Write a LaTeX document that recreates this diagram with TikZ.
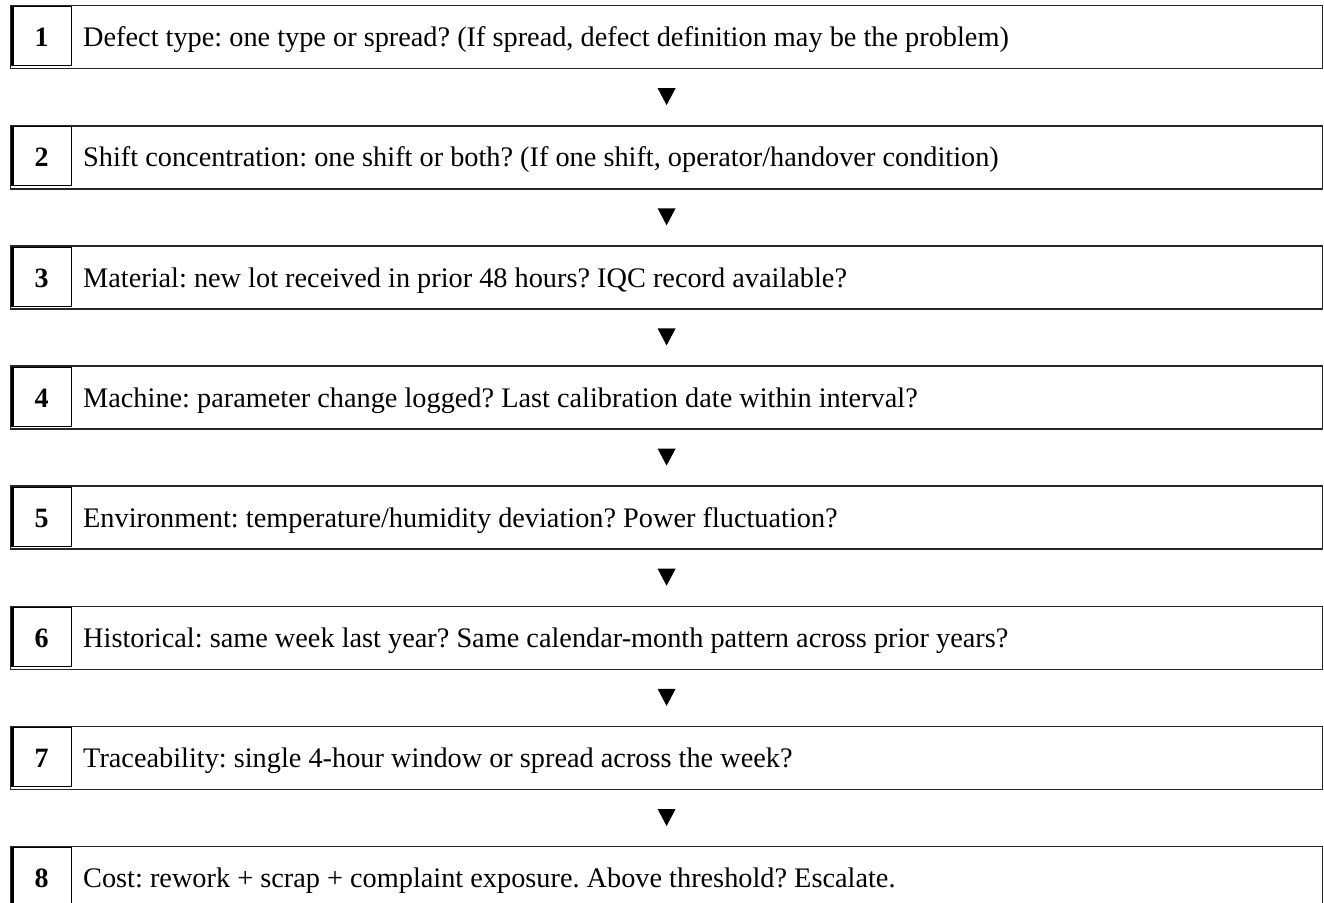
\documentclass[tikz,border=0pt]{standalone}
\usepackage{fontspec}
\setmainfont{Liberation Serif}
\usetikzlibrary{calc}
\tikzset{
  outerbox/.style={draw=black!85, line width=1.6pt, minimum width=1312pt, minimum height=63pt, inner sep=0pt, anchor=north west},
  numcell/.style={draw=black, line width=1pt, minimum width=59pt, minimum height=59pt, inner sep=0pt, anchor=north west},
  numtxt/.style={anchor=base, inner sep=0pt, font=\fontsize{28}{30}\selectfont\bfseries},
  txt/.style={anchor=base west, inner sep=0pt, font=\fontsize{28.3}{32}\selectfont},
  tri/.style={fill=black}
}
\frenchspacing
\begin{document}
\begin{tikzpicture}[x=1pt,y=-1pt]
\useasboundingbox (0,0) rectangle (1324,902);
\foreach \k/\t in {
 1/{Defect type: one type or spread? (If spread, defect definition may be the problem)},
 2/{Shift concentration: one shift or both? (If one shift, operator/handover condition)},
 3/{Material: new lot received in prior 48 hours? IQC record available?},
 4/{Machine: parameter change logged? Last calibration date within interval?},
 5/{Environment: temperature/humidity deviation? Power fluctuation?},
 6/{Historical: same week last year? Same calendar-month pattern across prior years?},
 7/{Traceability: single 4-hour window or spread across the week?},
 8/{Cost: rework + scrap + complaint exposure. Above threshold? Escalate.}}{
  \pgfmathsetmacro{\top}{4.8+120.14*(\k-1)}
  \node[outerbox] (b\k) at (9.8,\top) {};
  \node[numcell] (n\k) at (11.5,\top+1.5) {};
  \draw[line width=2.6pt] ($(n\k.north west)+(0.8,0)$) -- ($(n\k.south west)+(0.8,0)$);
  \node[numtxt] (d\k) at (41.5,\top+42) {\k};
  \node[txt] (t\k) at (83,\top+42) {\t};
}
\foreach \k [evaluate=\k as \n using int(\k+1)] in {1,...,7}{
  \coordinate (a\k) at ($(b\k.south)!0.5!(b\n.north)$);
  \fill[tri] ($(a\k)+(-9,-9)$) -- ($(a\k)+(9,-9)$) -- ($(a\k)+(0,8)$) -- cycle;
}
\end{tikzpicture}
\end{document}
